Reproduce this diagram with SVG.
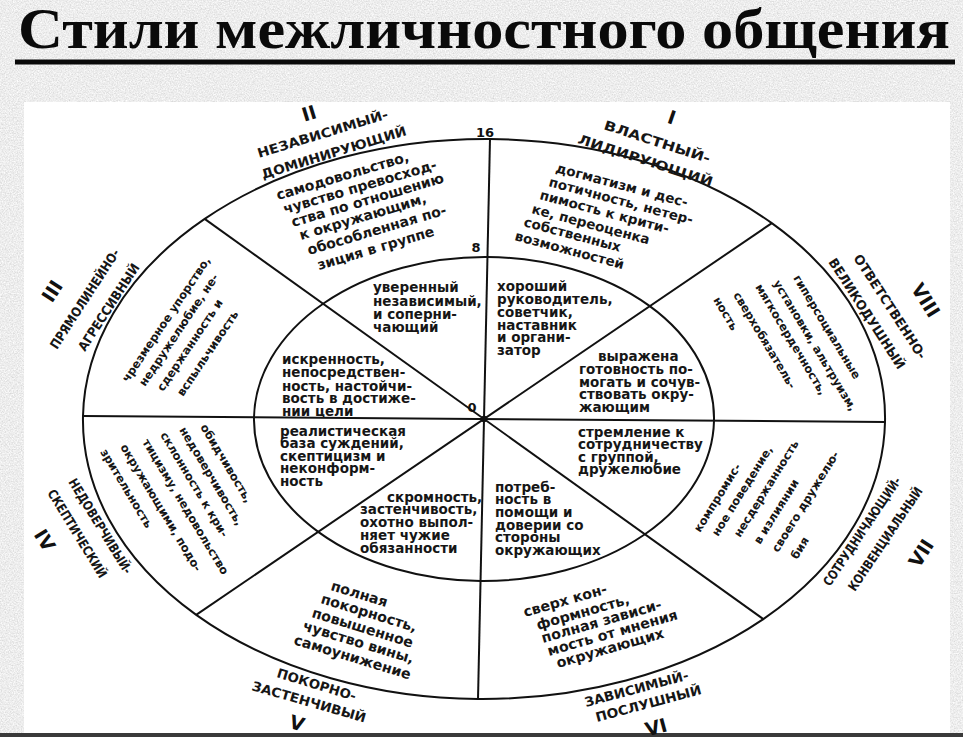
<svg xmlns="http://www.w3.org/2000/svg" width="963" height="737" viewBox="0 0 963 737">
<defs>
<filter id="noise" x="0" y="0" width="1" height="1">
<feTurbulence type="fractalNoise" baseFrequency="0.75" numOctaves="3" seed="7" result="t"/>
<feColorMatrix in="t" type="matrix" values="0.45 0 0 0 0.62  0.45 0 0 0 0.62  0.45 0 0 0 0.62  0 0 0 0 1"/>
</filter>
<style>
.t{font-family:"DejaVu Sans","Noto Sans",sans-serif;font-weight:bold;fill:#161616}
.in{font-size:13.5px}
.m{font-size:13.5px}
.m2{font-size:14px}
.s{font-size:11.5px}
.b{font-size:14.2px}
.lab{font-family:"DejaVu Sans","Noto Sans",sans-serif;font-weight:bold;fill:#161616;font-size:13px}
.rn{font-family:"DejaVu Sans",sans-serif;font-weight:bold;font-size:19px;fill:#111;text-anchor:middle;dominant-baseline:central}
.num{font-family:"DejaVu Sans",sans-serif;font-weight:bold;font-size:13px;fill:#111;text-anchor:middle}
.ln{fill:none;stroke:#111;stroke-width:2}
</style>
</defs>

<rect x="0" y="0" width="963" height="737" fill="#d7d7d7" filter="url(#noise)"/>
<text x="18" y="48" font-family="'Liberation Serif','DejaVu Serif',serif" font-weight="bold" font-size="58" fill="#0a0a0a" textLength="932" lengthAdjust="spacingAndGlyphs">Стили межличностного общения</text>
<rect x="15" y="59.5" width="940" height="5" fill="#0a0a0a"/>
<rect x="24" y="102" width="926" height="631" fill="#ffffff"/>
<rect x="0" y="733" width="963" height="4" fill="#3a3a3a"/>

<g id="connectors" transform="matrix(1,0.0075,-0.0214,1,8.97,-3.63)">
<ellipse class="ln" cx="484" cy="419" rx="401" ry="280" stroke-width="2.5"/>
<ellipse class="ln" cx="484" cy="419" rx="230" ry="162"/>
<line class="ln" x1="484" y1="139" x2="484" y2="699"/>
<line class="ln" x1="83" y1="419" x2="885" y2="419"/>
<line class="ln" x1="200.4" y1="221" x2="767.6" y2="617"/>
<line class="ln" x1="767.6" y1="221" x2="200.4" y2="617"/>
<circle cx="484" cy="419" r="3.2" fill="#111"/>
</g>

<g id="scale">
<text class="num" x="485" y="137">16</text>
<text class="num" x="476" y="252">8</text>
<text class="num" x="472" y="412">0</text>
</g>

<g id="sector-I">
<text class="rn" x="672" y="117" transform="rotate(19 672 117)">I</text>
<text class="lab" x="603" y="129" textLength="111" lengthAdjust="spacingAndGlyphs" transform="rotate(18 603 129)">ВЛАСТНЫЙ-</text>
<text class="lab" x="577" y="143" textLength="141" lengthAdjust="spacingAndGlyphs" transform="rotate(18 577 143)">ЛИДИРУЮЩИЙ</text>
<text class="t m" x="555" y="172" transform="rotate(15 555 172)">догматизм и дес-</text>
<text class="t m" x="548" y="186" transform="rotate(15 548 186)">потичность, нетер-</text>
<text class="t m" x="539" y="199" transform="rotate(15 539 199)">пимость к крити-</text>
<text class="t m" x="531" y="213" transform="rotate(15 531 213)">ке, переоценка</text>
<text class="t m" x="523" y="226" transform="rotate(15 523 226)">собственных</text>
<text class="t m" x="514" y="240" transform="rotate(15 514 240)">возможностей</text>
<text class="t in" x="497" y="291">хороший</text>
<text class="t in" x="497" y="304">руководитель,</text>
<text class="t in" x="497" y="317">советчик,</text>
<text class="t in" x="497" y="330">наставник</text>
<text class="t in" x="497" y="342">и органи-</text>
<text class="t in" x="497" y="355">затор</text>
</g>

<g id="sector-II">
<text class="rn" x="309" y="113" transform="rotate(-17 309 113)">II</text>
<text class="lab" x="259" y="158" textLength="136" lengthAdjust="spacingAndGlyphs" transform="rotate(-17 259 158)">НЕЗАВИСИМЫЙ-</text>
<text class="lab" x="263" y="179" textLength="151" lengthAdjust="spacingAndGlyphs" transform="rotate(-17 263 179)">ДОМИНИРУЮЩИЙ</text>
<text class="t m2" x="278" y="200" transform="rotate(-16.5 278 200)">самодовольство,</text>
<text class="t m2" x="285" y="214" transform="rotate(-16.5 285 214)">чувство превосход-</text>
<text class="t m2" x="293" y="227" transform="rotate(-16.5 293 227)">ства по отношению</text>
<text class="t m2" x="301" y="240" transform="rotate(-16.5 301 240)">к окружающим,</text>
<text class="t m2" x="309" y="255" transform="rotate(-16.5 309 255)">обособленная по-</text>
<text class="t m2" x="319" y="270" transform="rotate(-16.5 319 270)">зиция в группе</text>
<text class="t in" x="373" y="292">уверенный</text>
<text class="t in" x="373" y="306">независимый,</text>
<text class="t in" x="373" y="319">и соперни-</text>
<text class="t in" x="373" y="332">чающий</text>
</g>

<g id="sector-III">
<text class="rn" x="52" y="291" transform="rotate(-57 52 291)">III</text>
<text class="lab" x="57" y="350" textLength="116" lengthAdjust="spacingAndGlyphs" transform="rotate(-57 57 350)">ПРЯМОЛИНЕЙНО-</text>
<text class="lab" x="85" y="352" textLength="101" lengthAdjust="spacingAndGlyphs" transform="rotate(-57 85 352)">АГРЕССИВНЫЙ</text>
<text class="t s" x="128" y="383" transform="rotate(-56 128 383)">чрезмерное упорство,</text>
<text class="t s" x="145" y="387" transform="rotate(-56 145 387)">недружелюбие, не-</text>
<text class="t s" x="163" y="392" transform="rotate(-56 163 392)">сдержанность и</text>
<text class="t s" x="183" y="397" transform="rotate(-56 183 397)">вспыльчивость</text>
<text class="t in" x="282" y="364">искренность,</text>
<text class="t in" x="282" y="377">непосредствен-</text>
<text class="t in" x="282" y="391">ность, настойчи-</text>
<text class="t in" x="282" y="403">вость в достиже-</text>
<text class="t in" x="282" y="416">нии цели</text>
</g>

<g id="sector-IV">
<text class="rn" x="45" y="540" transform="rotate(58 45 540)">IV</text>
<text class="lab" x="68" y="482" textLength="109" lengthAdjust="spacingAndGlyphs" transform="rotate(58.5 68 482)">НЕДОВЕРЧИВЫЙ-</text>
<text class="lab" x="47" y="493" textLength="101" lengthAdjust="spacingAndGlyphs" transform="rotate(58.5 47 493)">СКЕПТИЧЕСКИЙ</text>
<text class="t s" x="200" y="427" transform="rotate(59 200 427)">обидчивость,</text>
<text class="t s" x="179" y="430" transform="rotate(59 179 430)">недоверчивость,</text>
<text class="t s" x="160" y="435" transform="rotate(59 160 435)">склонность к кри-</text>
<text class="t s" x="142" y="442" transform="rotate(59 142 442)">тицизму, недовольство</text>
<text class="t s" x="120" y="447" transform="rotate(59 120 447)">окружающими, подо-</text>
<text class="t s" x="100" y="452" transform="rotate(59 100 452)">зрительность</text>
<text class="t in" x="280" y="436">реалистическая</text>
<text class="t in" x="280" y="448">база суждений,</text>
<text class="t in" x="280" y="461">скептицизм и</text>
<text class="t in" x="280" y="473">неконформ-</text>
<text class="t in" x="280" y="486">ность</text>
</g>

<g id="sector-V">
<text class="rn" x="297" y="723" transform="rotate(17 297 723)">V</text>
<text class="lab" x="276" y="677" textLength="82" lengthAdjust="spacingAndGlyphs" transform="rotate(17 276 677)">ПОКОРНО-</text>
<text class="lab" x="251" y="690" textLength="118" lengthAdjust="spacingAndGlyphs" transform="rotate(16 251 690)">ЗАСТЕНЧИВЫЙ</text>
<text class="t b" x="330" y="590" transform="rotate(17 330 590)">полная</text>
<text class="t b" x="320" y="603" transform="rotate(17 320 603)">покорность,</text>
<text class="t b" x="311" y="617" transform="rotate(17 311 617)">повышенное</text>
<text class="t b" x="302" y="630" transform="rotate(17 302 630)">чувство вины,</text>
<text class="t b" x="293" y="644" transform="rotate(17 293 644)">самоунижение</text>
<text class="t in" x="387" y="502">скромность,</text>
<text class="t in" x="360" y="514">застенчивость,</text>
<text class="t in" x="360" y="527">охотно выпол-</text>
<text class="t in" x="360" y="540">няет чужие</text>
<text class="t in" x="360" y="553">обязанности</text>
</g>

<g id="sector-VI">
<text class="rn" x="656" y="727" transform="rotate(-15 656 727)">VI</text>
<text class="lab" x="586" y="707" textLength="107" lengthAdjust="spacingAndGlyphs" transform="rotate(-15 586 707)">ЗАВИСИМЫЙ-</text>
<text class="lab" x="597" y="722" textLength="109" lengthAdjust="spacingAndGlyphs" transform="rotate(-15 597 722)">ПОСЛУШНЫЙ</text>
<text class="t b" x="525" y="617" transform="rotate(-16 525 617)">сверх кон-</text>
<text class="t b" x="538" y="630" transform="rotate(-16 538 630)">формность,</text>
<text class="t b" x="543" y="643" transform="rotate(-16 543 643)">полная зависи-</text>
<text class="t b" x="549" y="656" transform="rotate(-16 549 656)">мость от мнения</text>
<text class="t b" x="558" y="668" transform="rotate(-16 558 668)">окружающих</text>
<text class="t in" x="495" y="492">потреб-</text>
<text class="t in" x="495" y="504">ность в</text>
<text class="t in" x="495" y="517">помощи и</text>
<text class="t in" x="495" y="530">доверии со</text>
<text class="t in" x="495" y="542">стороны</text>
<text class="t in" x="495" y="555">окружающих</text>
</g>

<g id="sector-VII">
<text class="rn" x="921" y="553" transform="rotate(-57 921 553)">VII</text>
<text class="lab" x="830" y="587" textLength="128" lengthAdjust="spacingAndGlyphs" transform="rotate(-56 830 587)">СОТРУДНИЧАЮЩИЙ-</text>
<text class="lab" x="855" y="592" textLength="122" lengthAdjust="spacingAndGlyphs" transform="rotate(-56 855 592)">КОНВЕНЦИАЛЬНЫЙ</text>
<text class="t s" x="700" y="533" transform="rotate(-58 700 533)">компромис-</text>
<text class="t s" x="718" y="537" transform="rotate(-58 718 537)">ное поведение,</text>
<text class="t s" x="740" y="538" transform="rotate(-58 740 538)">несдержанность</text>
<text class="t s" x="760" y="545" transform="rotate(-58 760 545)">в излиянии</text>
<text class="t s" x="778" y="553" transform="rotate(-58 778 553)">своего дружелю-</text>
<text class="t s" x="797" y="560" transform="rotate(-58 797 560)">бия</text>
<text class="t in" x="578" y="437">стремление к</text>
<text class="t in" x="578" y="449">сотрудничеству</text>
<text class="t in" x="578" y="462">с группой,</text>
<text class="t in" x="578" y="474">дружелюбие</text>
</g>

<g id="sector-VIII">
<text class="rn" x="926" y="300" transform="rotate(58 926 300)">VIII</text>
<text class="lab" x="853" y="258" textLength="122" lengthAdjust="spacingAndGlyphs" transform="rotate(57 853 258)">ОТВЕТСТВЕННО-</text>
<text class="lab" x="828" y="262" textLength="129" lengthAdjust="spacingAndGlyphs" transform="rotate(57 828 262)">ВЕЛИКОДУШНЫЙ</text>
<text class="t s" x="793" y="278" transform="rotate(59 793 278)">гиперсоциальные</text>
<text class="t s" x="773" y="283" transform="rotate(59 773 283)">установки, альтруизм,</text>
<text class="t s" x="755" y="287" transform="rotate(59 755 287)">мягкосердечность,</text>
<text class="t s" x="733" y="295" transform="rotate(59 733 295)">сверхобязатель-</text>
<text class="t s" x="713" y="300" transform="rotate(59 713 300)">ность</text>
<text class="t in" x="598" y="361">выражена</text>
<text class="t in" x="579" y="374">готовность по-</text>
<text class="t in" x="579" y="387">могать и сочув-</text>
<text class="t in" x="579" y="399">ствовать окру-</text>
<text class="t in" x="579" y="412">жающим</text>
</g>
</svg>
